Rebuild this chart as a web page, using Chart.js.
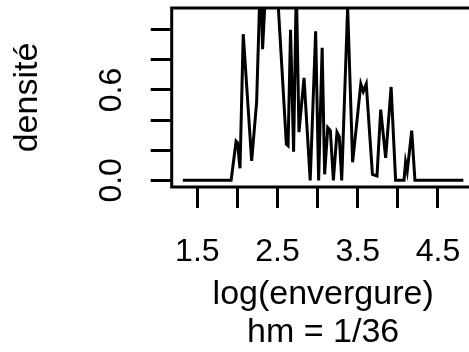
<!DOCTYPE html>
<html>
<head>
<meta charset="utf-8">
<script src="https://cdn.jsdelivr.net/npm/chart.js@4/dist/chart.umd.min.js"></script>
<style>
  html, body { margin: 0; padding: 0; background: #fff; overflow: hidden; }
  #wrap { width: 469px; height: 352px; overflow: hidden; }
</style>
</head>
<body>
<div id="wrap"><canvas id="c" width="500" height="352"></canvas></div>
<script>
// Density estimate of log(envergure), small bandwidth hm = 1/36
const logEnvergure = [1.319, 1.921, 1.983, 2.000, 2.032, 2.072, 2.177, 2.239, 2.288, 2.313,
  2.369, 2.406, 2.449, 2.493, 2.610, 2.631, 2.662, 2.700, 2.734, 2.767,
  2.830, 2.907, 2.975, 3.012, 3.056, 3.087, 3.126, 3.158, 3.196, 3.241,
  3.270, 3.300, 3.374, 3.436, 3.538, 3.569, 3.606, 3.683, 3.740, 3.786,
  3.848, 3.916, 3.972, 4.077, 4.096, 4.117, 4.173, 4.213, 4.817];
const densite = [0, 0, 0.26, 0.25, 0.08, 0.97, 0.13, 0.52, 1.40, 0.87,
  1.45, 1.25, 1.60, 1.30, 0.24, 0.23, 1.00, 0.19, 1.30, 0.32,
  0.68, 0, 0.99, 0, 0.88, 0.04, 0.35, 0.33, 0, 0.32,
  0.29, 0, 1.15, 0.12, 0.64, 0.59, 0.64, 0.04, 0.03, 0.47,
  0.15, 0.62, 0, 0, 0.12, 0.06, 0.33, 0, 0];

const xTicks = [1.5, 2.0, 2.5, 3.0, 3.5, 4.0, 4.5];
const xTickLabels = ['1.5', '', '2.5', '', '3.5', '', '4.5'];
const yTicks = [0, 0.2, 0.4, 0.6, 0.8, 1.0];
const yTickLabels = ['0.0', '', '', '0.6', '', ''];

const xTitle = ['log(envergure)', 'hm = 1/36'];
const yTitle = 'densité';

const FONT = 'Liberation Sans, Arial, Helvetica, sans-serif';
const LW = 3;

// full box around the plotting region
const boxPlugin = {
  id: 'box',
  afterDatasetsDraw(chart) {
    const a = chart.chartArea, ctx = chart.ctx;
    ctx.save();
    ctx.strokeStyle = '#000';
    ctx.lineWidth = LW;
    ctx.strokeRect(a.left, a.top, a.right - a.left, a.bottom - a.top);
    ctx.restore();
  }
};

function noPad(s) {
  s.paddingTop = 0; s.paddingBottom = 0; s.paddingLeft = 0; s.paddingRight = 0;
}

new Chart(document.getElementById('c'), {
  type: 'line',
  data: {
    datasets: [{
      data: logEnvergure.map((x, i) => ({ x, y: densite[i] })),
      borderColor: '#000',
      borderWidth: LW,
      borderJoinStyle: 'miter',
      pointRadius: 0,
      tension: 0,
      fill: false
    }]
  },
  options: {
    responsive: false,
    animation: false,
    devicePixelRatio: 1,
    layout: { padding: { left: 0, top: 8, right: 25.4, bottom: 0 } },
    plugins: { legend: { display: false }, tooltip: { enabled: false } },
    scales: {
      x: {
        type: 'linear',
        min: 1.18,
        max: 4.957,
        afterBuildTicks(s) { s.ticks = xTicks.map(v => ({ value: v })); },
        afterFit(s) { s.height = 352 - 187; noPad(s); },
        grid: { drawOnChartArea: false, drawTicks: true, tickLength: 21, tickWidth: LW, tickColor: '#000' },
        border: { display: false },
        ticks: {
          autoSkip: false,
          maxRotation: 0,
          minRotation: 0,
          padding: 25,
          color: '#000',
          font: { family: FONT, size: 32 },
          callback(v) { const i = xTicks.indexOf(v); return i >= 0 ? xTickLabels[i] : ''; }
        },
        title: {
          display: true,
          text: xTitle,
          color: '#000',
          font: { family: FONT, size: 34, lineHeight: 1.12 },
          padding: { top: 0, bottom: 0 }
        }
      },
      y: {
        min: -0.044,
        max: 1.144,
        afterBuildTicks(s) { s.ticks = yTicks.map(v => ({ value: v })); },
        afterFit(s) { s.width = 171.7; noPad(s); },
        grid: { drawOnChartArea: false, drawTicks: true, tickLength: 21, tickWidth: LW, tickColor: '#000' },
        border: { display: false },
        ticks: {
          autoSkip: false,
          minRotation: 90,
          maxRotation: 90,
          crossAlign: 'center',
          padding: 16.5,
          color: '#000',
          font: { family: FONT, size: 32 },
          callback(v) { const i = yTicks.indexOf(v); return i >= 0 ? yTickLabels[i] : ''; }
        },
        title: {
          display: true,
          text: yTitle,
          color: '#000',
          font: { family: FONT, size: 34, lineHeight: 1.12 },
          padding: { top: 9, bottom: 0 }
        }
      }
    }
  },
  plugins: [boxPlugin]
});
</script>
</body>
</html>
